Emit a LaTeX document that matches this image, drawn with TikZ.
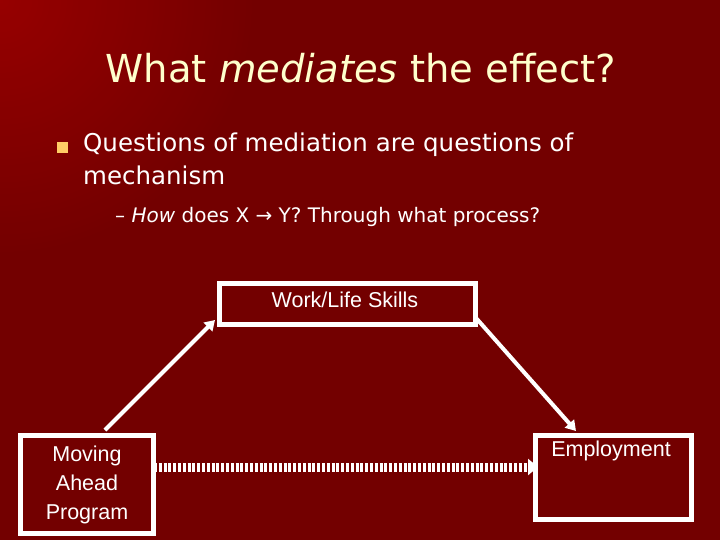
\documentclass[tikz,border=0pt]{standalone}
\usepackage{fontspec}
\setmainfont{DejaVu Sans}
\newfontfamily\arialf{Liberation Sans}
\usetikzlibrary{arrows.meta}
\definecolor{bgred}{HTML}{730000}
\definecolor{hired}{HTML}{A00000}
\definecolor{titlec}{HTML}{FFFFCC}
\definecolor{bullc}{HTML}{FFCC66}
\tikzset{
  box/.style={draw=white,line width=5pt,text=white,font=\arialf\fontsize{21.5}{29}\selectfont,align=center,inner sep=0pt},
  lbl/.style={white,font=\arialf\fontsize{21.5}{29}\selectfont},
  conn/.style={white,line width=4pt,-{Triangle[length=10pt,width=12pt]}},
  dotconn/.style={white,line width=9pt,dash pattern=on 3pt off 1.8pt,-{Triangle[length=10pt,width=16pt]}}
}
\begin{document}
\begin{tikzpicture}[x=1pt,y=-1pt]
\useasboundingbox (0,0) rectangle (720,540);
\fill[bgred] (0,0) rectangle (720,540);
\shade[inner color=hired,outer color=bgred,opacity=0.8] (0,0) circle (260);
\node[text=titlec,font=\fontsize{38.5}{44}\selectfont] (title) at (361,68) {What \textit{mediates} the effect?};
\fill[bullc] (57,142) rectangle (68,153) coordinate (bul);
\node[text=white,anchor=north west,align=left,font=\fontsize{24.5}{33}\selectfont,inner sep=0pt] (q) at (83,133) {Questions of mediation are questions of\\mechanism};
\node[text=white,anchor=west,font=\fontsize{20}{24}\selectfont,inner sep=0pt] (sub) at (115,217) {– \textit{How} does X → Y? Through what process?};
\node[box,minimum width=256pt,minimum height=41pt,anchor=north west] (wl) at (217,281) {};
\node[lbl] (wlt) at (345,300) {Work/Life Skills};
\node[box,minimum width=133pt,minimum height=98pt,anchor=north west] (map) at (18,433) {Moving\\Ahead\\Program};
\node[box,minimum width=156pt,minimum height=84pt,anchor=north west] (emp) at (533,433) {};
\node[lbl] (empt) at (611,451) {Employment};
\coordinate (a1) at (105,430);
\coordinate (b1) at (215,320);
\coordinate (a2) at (476,318);
\coordinate (b2) at (576,431);
\coordinate (a3) at (154,467);
\coordinate (b3) at (538,467);
\draw[conn] (a1) -- (b1);
\draw[conn] (a2) -- (b2);
\draw[dotconn] (a3) -- (b3);
\end{tikzpicture}
\end{document}
